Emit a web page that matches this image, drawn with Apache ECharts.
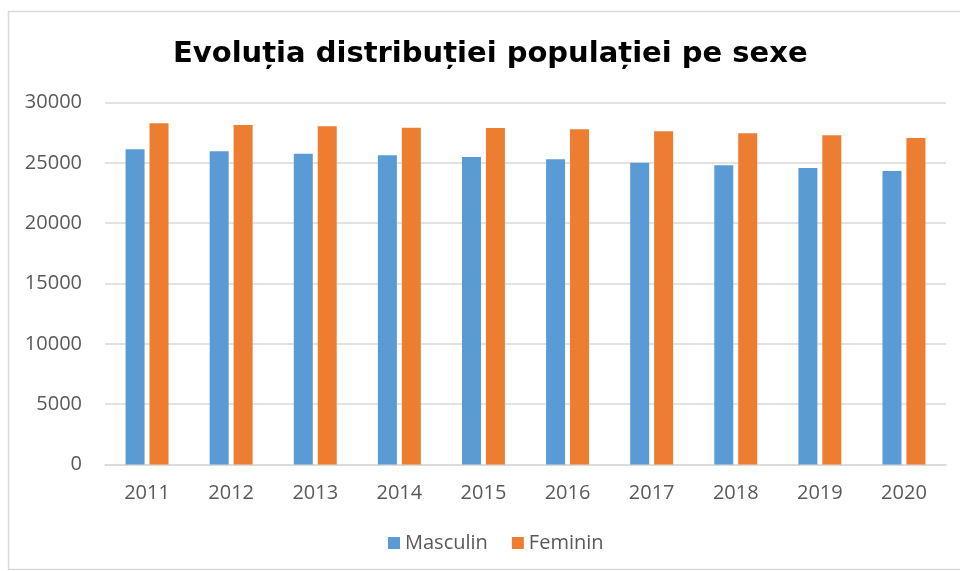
<!DOCTYPE html>
<html>
<head>
<meta charset="utf-8">
<script src="https://cdn.jsdelivr.net/npm/echarts@6/dist/echarts.min.js"></script>
<style>
html,body{margin:0;padding:0;background:#fff;}
#c{width:960px;height:571px;}
</style>
</head>
<body>
<div id="c"></div>
<script>
const categories = ['2011','2012','2013','2014','2015','2016','2017','2018','2019','2020'];
const masculin = [26120, 25950, 25760, 25620, 25480, 25290, 25010, 24800, 24570, 24320];
const feminin = [28280, 28140, 28030, 27910, 27890, 27780, 27610, 27450, 27280, 27060];
const yTicks = [0, 5000, 10000, 15000, 20000, 25000, 30000];

const chart = echarts.init(document.getElementById('c'));
const fontFam = '"Open Sans", sans-serif';
chart.setOption({
  animation: false,
  backgroundColor: '#fff',
  graphic: [{
    type: 'rect', shape: {x: 8.5, y: 11.5, width: 1000, height: 558},
    style: {fill: 'none', stroke: '#d9d9d9', lineWidth: 1.5}, z: -1
  }],
  title: {
    text: 'Evoluția distribuției populației pe sexe',
    left: 168, top: 35,
    textStyle: {fontFamily: '"DejaVu Sans", sans-serif', fontWeight: 'bold', fontSize: 29, color: '#000'}
  },
  legend: {
    top: 528, left: 383,
    itemWidth: 12, itemHeight: 12, itemGap: 24,
    icon: 'rect',
    textStyle: {fontFamily: fontFam, fontSize: 20, color: '#595959'},
    data: ['Masculin', 'Feminin']
  },
  grid: {left: 105, right: 14, top: 102.5, bottom: 106.5},
  xAxis: {
    type: 'category', data: categories,
    axisLine: {lineStyle: {color: '#d9d9d9', width: 1.5}},
    axisTick: {show: false},
    axisLabel: {fontFamily: fontFam, fontSize: 20, color: '#595959', margin: 19}
  },
  yAxis: {
    type: 'value', min: yTicks[0], max: yTicks[yTicks.length-1], interval: 5000,
    axisLine: {show: false}, axisTick: {show: false},
    splitLine: {lineStyle: {color: '#d9d9d9', width: 1.5}},
    axisLabel: {fontFamily: fontFam, fontSize: 20, color: '#595959', margin: 23,
      formatter: function (v) { return String(v); }}
  },
  series: [
    {name: 'Masculin', type: 'bar', data: masculin, barWidth: 19, barGap: '26%',
     itemStyle: {color: '#5B9BD5'}},
    {name: 'Feminin', type: 'bar', data: feminin, barWidth: 19, barGap: '26%',
     itemStyle: {color: '#ED7D31'}}
  ]
});
</script>
</body>
</html>
